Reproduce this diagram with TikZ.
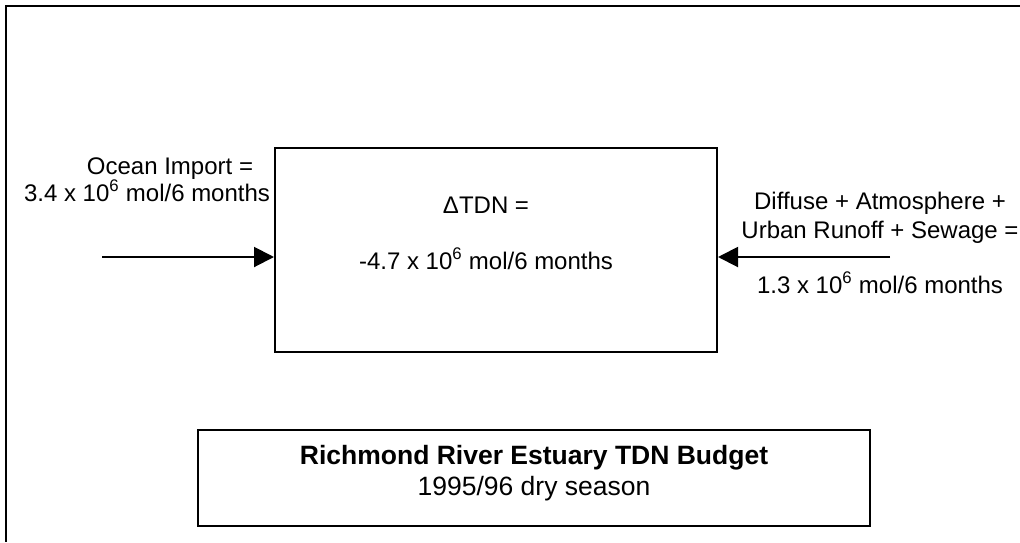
\documentclass[tikz,border=0pt]{standalone}
\usepackage{fontspec}
\setmainfont{Liberation Sans}
\usepackage{tikz}
\usetikzlibrary{arrows.meta, positioning}
\newcommand{\tenpow}{10\textsuperscript{6}}

\tikzset{
    label/.style={anchor=base, inner sep=0pt, font=\fontsize{24}{28}\selectfont},
    biglabel/.style={label, font=\fontsize{26.5}{31}\selectfont},
    budgetbox/.style={draw, line width=2pt, inner sep=0pt},
    flow/.style={line width=2pt, -{Triangle[length=20pt, width=20pt]}}
}

\begin{document}
\begin{tikzpicture}[x=1pt, y=-1pt]
    \useasboundingbox (0,0) rectangle (1020,542);

    % Frame
    \draw[line width=2pt] (1020,6) -- (6,6) -- (6,542);

    % Estuary box
    \node[budgetbox, minimum width=442pt, minimum height=204pt] (estuary) at (496,250) {};
    \node[label] (delta) at (486,213) {ΔTDN =};
    \node[label] (change) at (486,269) {-4.7 x \tenpow\ mol/6 months};

    % Ocean import
    \node[label] (oceanA) at (170,174) {Ocean Import =};
    \node[label] (oceanB) at (147,201) {3.4 x \tenpow\ mol/6 months};
    \coordinate (ocean) at (102,257);
    \draw[flow] (ocean) -- (ocean -| estuary.west);

    % Catchment inputs
    \node[label] (landA) at (880,209) {Diffuse + Atmosphere +};
    \node[label] (landB) at (880,238) {Urban Runoff + Sewage =};
    \node[label] (landC) at (880,293) {1.3 x \tenpow\ mol/6 months};
    \coordinate (land) at (890,257);
    \draw[flow] (land) -- (land -| estuary.east);

    % Title
    \node[budgetbox, minimum width=672pt, minimum height=96pt] (title) at (534,478) {};
    \node[biglabel, font=\fontsize{26.5}{31}\selectfont\bfseries] (titleA) at (534,464) {Richmond River Estuary TDN Budget};
    \node[biglabel] (titleB) at (534,495) {1995/96 dry season};
\end{tikzpicture}
\end{document}
